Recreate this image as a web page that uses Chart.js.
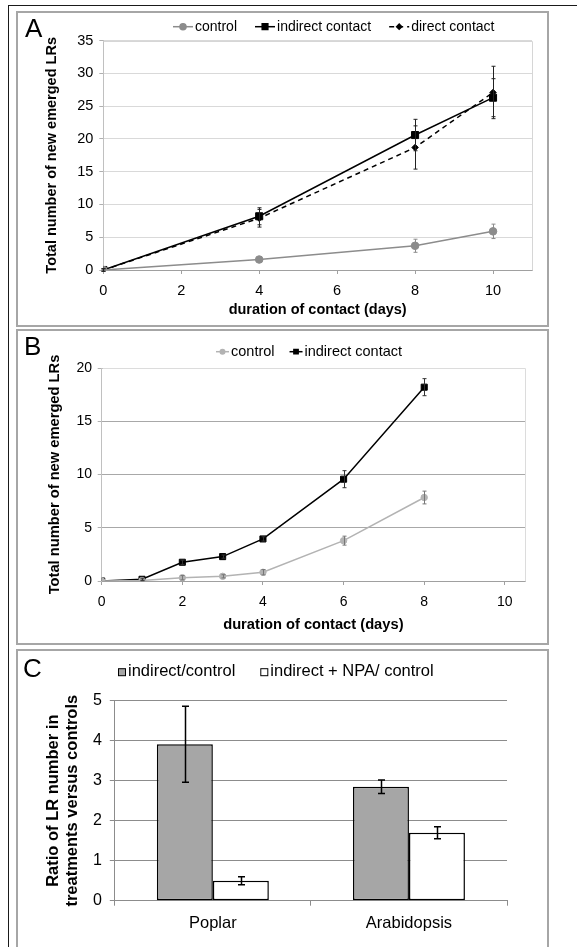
<!DOCTYPE html>
<html>
<head>
<meta charset="utf-8">
<script src="https://cdn.jsdelivr.net/npm/chart.js@4.4.1/dist/chart.umd.min.js"></script>
<style>
  html, body { margin: 0; padding: 0; background: #fff; }
  body { width: 577px; height: 947px; position: relative; overflow: hidden; }
  .rule { position: absolute; background: #1a1a1a; }
  .frame { position: absolute; box-sizing: border-box; border: 2px solid #a6a6a6; }
  canvas { position: absolute; left: 0; }
</style>
</head>
<body>
<div class="rule" style="left:8px;top:5px;width:569px;height:1px"></div>
<div class="rule" style="left:8px;top:5px;width:1px;height:942px"></div>
<div class="frame" style="left:16px;top:11px;width:533px;height:316px"></div>
<div class="frame" style="left:16px;top:329px;width:533px;height:316px"></div>
<div class="frame" style="left:16px;top:649px;width:533px;height:320px"></div>
<canvas id="chartA" width="577" height="314" style="top:12px"></canvas>
<canvas id="chartB" width="577" height="314" style="top:330px"></canvas>
<canvas id="chartC" width="577" height="297" style="top:650px"></canvas>
<script>
// ---- Panel A: lateral roots over 10 days of contact ----
const daysA = [0, 4, 8, 10];
const controlA = [0, 1.6, 3.7, 5.9];
const controlAErr = [0.1, 0.3, 1.0, 1.1];
const indirectA = [0, 8.2, 20.6, 26.3];
const indirectAErr = [0.2, 1.3, 2.4, 2.9];
const directA = [0, 7.9, 18.7, 27.1];
const directAErr = [0.2, 1.35, 3.3, 4.0];
const ticksA = { xMin: 0, xMax: 11, xStep: 2, yMin: 0, yMax: 35, yStep: 5 };

// ---- Panel B: daily time course over 8 days ----
const daysB = [0, 1, 2, 3, 4, 6, 8];
const controlB = [0, 0.05, 0.31, 0.44, 0.82, 3.79, 7.84];
const controlBErr = [0, 0.05, 0.2, 0.15, 0.25, 0.42, 0.6];
const indirectB = [0, 0.16, 1.76, 2.29, 3.95, 9.56, 18.2];
const indirectBErr = [0, 0.1, 0.2, 0.15, 0.2, 0.8, 0.8];
const ticksB = { xMin: 0, xMax: 10.5, xStep: 2, yMin: 0, yMax: 20, yStep: 5 };

// ---- Panel C: treatment / control ratios ----
const species = ['Poplar', 'Arabidopsis'];
const ratioIndirect = [3.91, 2.85];
const ratioIndirectErr = [0.95, 0.17];
const ratioNPA = [0.50, 1.70];
const ratioNPAErr = [0.10, 0.15];
const ticksC = { yMin: 0, yMax: 5, yStep: 1 };

const FONT = "'Liberation Sans', Arial, Helvetica, sans-serif";
Chart.defaults.font.family = FONT;
Chart.defaults.color = '#000';

const xyPairs = (xs, ys) => xs.map((x, i) => ({ x: x, y: ys[i] }));

// Vertical error bars with caps, placed through the chart's own scales.
const errorBars = {
  id: 'errorBars',
  afterDatasetsDraw(chart) {
    const ctx = chart.ctx;
    const yScale = chart.scales.y;
    chart.data.datasets.forEach((ds, i) => {
      if (!ds.errors) return;
      const meta = chart.getDatasetMeta(i);
      ctx.save();
      ctx.strokeStyle = ds.errorColor || '#000';
      ctx.lineWidth = ds.errorWidth || 1;
      const cap = ds.errorCap || 2;
      meta.data.forEach((el, j) => {
        const e = ds.errors[j];
        if (!e) return;
        const raw = ds.data[j];
        const v = (typeof raw === 'object') ? raw.y : raw;
        const x = Math.round(el.x) + 0.5;
        const yt = yScale.getPixelForValue(v + e);
        const yb = yScale.getPixelForValue(v - e);
        ctx.beginPath();
        ctx.moveTo(x, yt); ctx.lineTo(x, yb);
        ctx.moveTo(x - cap, yt); ctx.lineTo(x + cap, yt);
        ctx.moveTo(x - cap, yb); ctx.lineTo(x + cap, yb);
        ctx.stroke();
      });
      ctx.restore();
    });
  }
};

// Thin frame around the plotting area.
const plotFrame = {
  id: 'plotFrame',
  beforeDatasetsDraw(chart, args, opts) {
    if (!opts || !opts.color) return;
    const { left, right, top, bottom } = chart.chartArea;
    const ctx = chart.ctx;
    ctx.save();
    ctx.strokeStyle = opts.color;
    ctx.lineWidth = 1;
    ctx.beginPath();
    ctx.moveTo(Math.round(left) + 0.5, Math.round(top) + 0.5);
    ctx.lineTo(Math.round(right) + 0.5, Math.round(top) + 0.5);
    ctx.lineTo(Math.round(right) + 0.5, Math.round(bottom) + 0.5);
    ctx.stroke();
    ctx.restore();
  }
};

// Panel letter and the legend row above the plot.
const panelText = {
  id: 'panelText',
  afterDraw(chart, args, o) {
    const ctx = chart.ctx;
    ctx.save();
    ctx.fillStyle = '#000';
    ctx.font = o.letterSize + 'px ' + FONT;
    ctx.textBaseline = 'alphabetic';
    ctx.textAlign = 'left';
    ctx.fillText(o.letter, o.letterX, o.letterY);

    ctx.font = o.legendSize + 'px ' + FONT;
    ctx.textBaseline = 'middle';
    let x = o.legendX;
    const y = o.legendY;
    chart.data.datasets.forEach((ds) => {
      const w = o.symbolWidth;
      if (o.symbol === 'line') {
        ctx.save();
        ctx.strokeStyle = ds.borderColor;
        ctx.lineWidth = ds.borderWidth;
        ctx.setLineDash(ds.borderDash || []);
        ctx.beginPath();
        ctx.moveTo(x, y); ctx.lineTo(x + w, y);
        ctx.stroke();
        ctx.setLineDash([]);
        ctx.fillStyle = ds.backgroundColor;
        ctx.strokeStyle = ds.borderColor;
        Chart.helpers.drawPoint(ctx, {
          pointStyle: ds.pointStyle,
          radius: ds.pointRadius * o.markerScale,
          rotation: 0,
          borderWidth: 1
        }, x + w / 2, y);
        ctx.restore();
      } else {
        ctx.save();
        ctx.fillStyle = ds.backgroundColor;
        ctx.strokeStyle = '#000';
        ctx.lineWidth = 1;
        ctx.fillRect(x + 0.5, y - w / 2 + 0.5, w, w);
        ctx.strokeRect(x + 0.5, y - w / 2 + 0.5, w, w);
        ctx.restore();
      }
      x += w + o.symbolGap;
      ctx.fillStyle = '#000';
      ctx.fillText(ds.label, x, y);
      x += ctx.measureText(ds.label).width + o.itemGap;
    });
    ctx.restore();
  }
};

function fixedWidth(w) { return (scale) => { scale.width = w; }; }
function fixedHeight(h) { return (scale) => { scale.height = h; }; }

// ---------- Panel A ----------
new Chart(document.getElementById('chartA'), {
  type: 'line',
  data: {
    datasets: [
      {
        label: 'control', data: xyPairs(daysA, controlA), errors: controlAErr,
        borderColor: '#8c8c8c', backgroundColor: '#8c8c8c', borderWidth: 1.5,
        pointStyle: 'circle', pointRadius: 3.8, pointBorderWidth: 1,
        errorColor: '#8c8c8c', errorCap: 2
      },
      {
        label: 'indirect contact', data: xyPairs(daysA, indirectA), errors: indirectAErr,
        borderColor: '#000', backgroundColor: '#000', borderWidth: 1.5,
        pointStyle: 'rect', pointRadius: 5, pointBorderWidth: 1,
        errorColor: '#222', errorCap: 2
      },
      {
        label: 'direct contact', data: xyPairs(daysA, directA), errors: directAErr,
        borderColor: '#000', backgroundColor: '#000', borderWidth: 1.5, borderDash: [5, 4],
        pointStyle: 'rectRot', pointRadius: 3.2, pointBorderWidth: 1,
        errorColor: '#222', errorCap: 2
      }
    ]
  },
  options: {
    responsive: false, animation: false,
    layout: { padding: { left: 0, right: 45, top: 28.7, bottom: 0 } },
    plugins: {
      legend: { display: false }, tooltip: { enabled: false },
      plotFrame: { color: '#d6d6d6' },
      panelText: {
        letter: 'A', letterSize: 26, letterX: 25, letterY: 25,
        legendSize: 14, legendX: 173, legendY: 14.7, symbol: 'line',
        symbolWidth: 20, symbolGap: 2, itemGap: 18, markerScale: 0.8
      }
    },
    scales: {
      x: {
        type: 'linear', min: ticksA.xMin, max: ticksA.xMax,
        ticks: { stepSize: ticksA.xStep, includeBounds: false, padding: 7.8, font: { size: 14.5 } },
        grid: { drawOnChartArea: false, tickLength: 4, tickColor: '#a0a0a0' },
        border: { color: '#a0a0a0' },
        title: { display: true, text: 'duration of contact (days)', font: { size: 14.5, weight: 'bold' }, padding: { top: 0, bottom: 7.3 } },
        afterFit: fixedHeight(56)
      },
      y: {
        min: ticksA.yMin, max: ticksA.yMax,
        ticks: { stepSize: ticksA.yStep, padding: 6, font: { size: 14.5 } },
        grid: { color: '#d9d9d9', tickLength: 4, tickColor: '#b0b0b0' },
        border: { color: '#c0c0c0' },
        title: { display: true, text: 'Total number of new emerged LRs', font: { size: 14.5, weight: 'bold' }, padding: { top: 43.3, bottom: 0 } },
        afterFit: fixedWidth(103.3)
      }
    }
  },
  plugins: [plotFrame, errorBars, panelText]
});

// ---------- Panel B ----------
new Chart(document.getElementById('chartB'), {
  type: 'line',
  data: {
    datasets: [
      {
        label: 'control', data: xyPairs(daysB, controlB), errors: controlBErr,
        borderColor: '#b3b3b3', backgroundColor: '#b3b3b3', borderWidth: 1.5,
        pointStyle: 'circle', pointRadius: 3.2, pointBorderWidth: 1,
        errorColor: '#777', errorCap: 2
      },
      {
        label: 'indirect contact', data: xyPairs(daysB, indirectB), errors: indirectBErr,
        borderColor: '#000', backgroundColor: '#000', borderWidth: 1.5,
        pointStyle: 'rect', pointRadius: 4.3, pointBorderWidth: 1,
        errorColor: '#333', errorCap: 2
      }
    ]
  },
  options: {
    responsive: false, animation: false,
    layout: { padding: { left: 0, right: 52, top: 38, bottom: 0 } },
    plugins: {
      legend: { display: false }, tooltip: { enabled: false },
      plotFrame: { color: '#dcdcdc' },
      panelText: {
        letter: 'B', letterSize: 26, letterX: 24, letterY: 25,
        legendSize: 14.5, legendX: 216, legendY: 21.7, symbol: 'line',
        symbolWidth: 13, symbolGap: 2, itemGap: 15, markerScale: 0.7
      }
    },
    scales: {
      x: {
        type: 'linear', min: ticksB.xMin, max: ticksB.xMax,
        ticks: { stepSize: ticksB.xStep, includeBounds: false, padding: 8.3, font: { size: 14 } },
        grid: { drawOnChartArea: false, tickLength: 4, tickColor: '#a0a0a0' },
        border: { color: '#a0a0a0' },
        title: { display: true, text: 'duration of contact (days)', font: { size: 14.7, weight: 'bold' }, padding: { top: 0, bottom: 10.2 } },
        afterFit: fixedHeight(63)
      },
      y: {
        min: ticksB.yMin, max: ticksB.yMax,
        ticks: { stepSize: ticksB.yStep, padding: 5.7, font: { size: 14 } },
        grid: { color: '#a8a8a8', tickLength: 4, tickColor: '#b0b0b0' },
        border: { color: '#c0c0c0' },
        title: { display: true, text: 'Total number of new emerged LRs', font: { size: 14.7, weight: 'bold' }, padding: { top: 46.4, bottom: 0 } },
        afterFit: fixedWidth(101.7)
      }
    }
  },
  plugins: [plotFrame, errorBars, panelText]
});

// ---------- Panel C ----------
new Chart(document.getElementById('chartC'), {
  type: 'bar',
  data: {
    labels: species,
    datasets: [
      {
        label: 'indirect/control', data: ratioIndirect, errors: ratioIndirectErr,
        backgroundColor: '#a6a6a6', borderColor: '#000', borderWidth: 1.5, borderSkipped: false,
        errorColor: '#000', errorWidth: 1.5, errorCap: 3.5
      },
      {
        label: 'indirect + NPA/ control', data: ratioNPA, errors: ratioNPAErr,
        backgroundColor: '#ffffff', borderColor: '#000', borderWidth: 1.5, borderSkipped: false,
        errorColor: '#000', errorWidth: 1.5, errorCap: 3.5
      }
    ]
  },
  options: {
    responsive: false, animation: false,
    categoryPercentage: 0.571, barPercentage: 1.0,
    layout: { padding: { left: 0, right: 70, top: 50.7, bottom: 0 } },
    plugins: {
      legend: { display: false }, tooltip: { enabled: false },
      panelText: {
        letter: 'C', letterSize: 26, letterX: 23, letterY: 26.7,
        legendSize: 16.5, legendX: 118, legendY: 21.7, symbol: 'box',
        symbolWidth: 7, symbolGap: 3, itemGap: 25, markerScale: 1
      }
    },
    scales: {
      x: {
        ticks: { padding: 7.7, font: { size: 16.5 } },
        grid: { drawOnChartArea: false, tickLength: 5, tickColor: '#8c8c8c', offset: true },
        border: { color: '#8c8c8c' },
        afterFit: fixedHeight(46.3)
      },
      y: {
        min: ticksC.yMin, max: ticksC.yMax,
        ticks: { stepSize: ticksC.yStep, padding: 8, font: { size: 16 } },
        grid: { color: '#8c8c8c', tickLength: 5, tickColor: '#8c8c8c' },
        border: { color: '#8c8c8c' },
        title: {
          display: true, text: ['Ratio of LR number in', 'treatments versus controls'],
          font: { size: 16.5, weight: 'bold', lineHeight: 1.15 }, padding: { top: 43.5, bottom: 0 }
        },
        afterFit: fixedWidth(114.8)
      }
    }
  },
  plugins: [errorBars, panelText]
});
</script>
</body>
</html>
